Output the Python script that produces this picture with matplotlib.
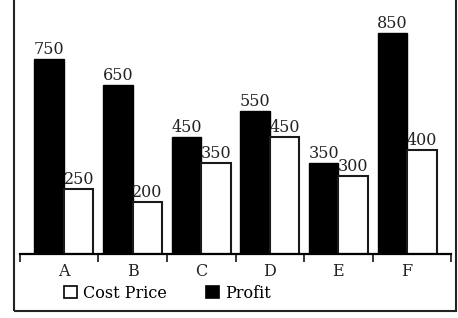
import matplotlib
matplotlib.use('Agg')
import matplotlib.pyplot as plt
import numpy as np
from matplotlib.patches import Rectangle, Patch

categories = ['A', 'B', 'C', 'D', 'E', 'F']
cost_price = [250, 200, 350, 450, 300, 400]
profit = [750, 650, 450, 550, 350, 850]

plt.rcParams['font.family'] = ['DejaVu Serif']
W, H = 458, 318
FS = 11.5
fig = plt.figure(figsize=(W / 100, H / 100), dpi=100)
ax = fig.add_axes([20 / W, 64 / H, 431 / W, 254 / H])

x = np.arange(len(categories))
w = 0.43
bp = ax.bar(x - w / 2, profit, w, color='black', edgecolor='black', linewidth=1.0)
bc = ax.bar(x + w / 2, cost_price, w, color='white', edgecolor='#1a1a1a', linewidth=1.5)

ax.bar_label(bp, padding=1, fontsize=FS, color='#222')
ax.bar_label(bc, padding=1, fontsize=FS, color='#222')

ax.set_xlim(-0.641, 5.641)
ax.set_ylim(0, 977)

for s in ['top', 'left', 'right']:
    ax.spines[s].set_visible(False)
ax.spines['bottom'].set_linewidth(1.6)
ax.set_yticks([])

ax.set_xticks([-0.641, 0.5, 1.5, 2.5, 3.5, 4.5, 5.641])
ax.set_xticklabels([])
ax.tick_params(axis='x', which='major', length=6, width=1.1, direction='out')
ax.set_xticks(x, minor=True)
ax.set_xticklabels(categories, minor=True, fontsize=FS, color='#222')
ax.tick_params(axis='x', which='minor', length=0, pad=6.5)

handles = [Patch(facecolor='white', edgecolor='black', linewidth=1.2, label='Cost Price'),
           Patch(facecolor='black', edgecolor='black', linewidth=1.2, label='Profit')]
fig.legend(handles=handles, loc='center left', bbox_to_anchor=(64 / W, 1 - 293 / H),
           bbox_transform=fig.transFigure, ncol=2, frameon=False, fontsize=FS,
           handlelength=0.8, handleheight=0.8, handletextpad=0.4, columnspacing=2.45,
           borderpad=0, borderaxespad=0)

fig.add_artist(Rectangle((14 / W, 1 - 311 / H), (456 - 14) / W, 1.5, transform=fig.transFigure,
                         fill=False, linewidth=1.5, edgecolor='#222', clip_on=False))

fig.savefig('out.png', dpi=100)
